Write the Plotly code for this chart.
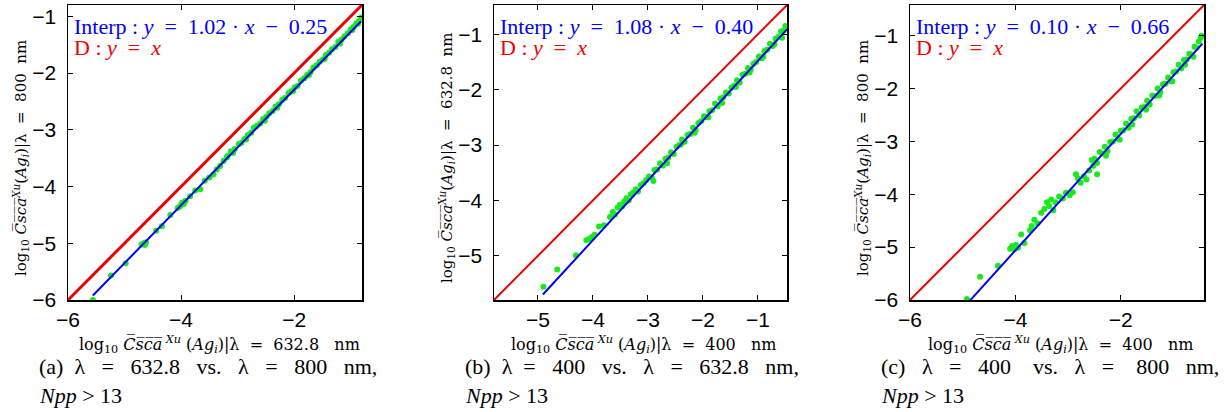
import plotly.graph_objects as go

W, H = 1230, 412

# ---------------- data (log10 values) ----------------
# Panel (a): lambda = 632.8 (x) vs lambda = 800 nm (y)
a_x = [-5.56, -5.24, -4.98, -4.70, -4.66, -4.62, -4.64, -4.44, -4.34, -4.19, -4.06, -4.02, -3.98,
       -3.95, -4.00, -3.92, -3.84, -3.75, -3.66, -3.58, -3.50, -3.43, -3.37, -3.31, -3.25, -3.19,
       -3.18, -3.12, -3.05, -2.98, -2.93, -2.88, -2.82, -2.76, -2.71, -2.66, -2.60, -2.55, -2.49,
       -2.44, -2.38, -2.33, -2.27, -2.21, -2.16, -2.10, -2.05, -1.99, -1.94, -1.88, -1.82, -1.77,
       -1.71, -1.66, -1.60, -1.55, -1.49, -1.44, -1.38, -1.33, -1.27, -1.22, -1.16, -1.11, -1.05,
       -1.00, -0.95, -0.90, -0.85, -0.81,
       -3.08, -2.85, -2.52, -2.30, -2.02, -1.74, -1.46, -1.19, -0.97, -0.87]
a_y = [-6.00, -5.57, -5.35, -5.02, -5.00, -4.98, -5.03, -4.78, -4.70, -4.50, -4.38, -4.35, -4.28,
       -4.31, -4.32, -4.25, -4.17, -4.07, -4.05, -3.90, -3.84, -3.79, -3.70, -3.64, -3.55, -3.49,
       -3.46, -3.38, -3.34, -3.25, -3.23, -3.16, -3.09, -3.05, -2.96, -2.93, -2.89, -2.81, -2.77,
       -2.71, -2.67, -2.59, -2.55, -2.47, -2.44, -2.35, -2.32, -2.25, -2.23, -2.13, -2.09, -2.03,
       -1.98, -1.90, -1.86, -1.80, -1.76, -1.68, -1.64, -1.58, -1.54, -1.45, -1.41, -1.35, -1.30,
       -1.23, -1.19, -1.12, -1.08, -1.02,
       -3.41, -3.17, -2.84, -2.61, -2.32, -2.04, -1.75, -1.48, -1.24, -1.13]
a_fit_x = [-5.56, -0.82]
a_fit_y = [-5.92, -1.09]
a_diag = [-6.0, -0.8]
a_range = [-6.0, -0.8]
a_xticks = [-6, -4, -2]
a_yticks = [-6, -5, -4, -3, -2, -1]

# Panel (b): lambda = 400 (x) vs lambda = 632.8 nm (y)
b_x = [-4.90, -4.65, -4.31, -4.12, -4.07, -4.02, -3.97, -3.89, -3.80, -3.69, -3.64, -3.60, -3.55,
       -3.51, -3.47, -3.43, -3.39, -3.35, -3.31, -3.27, -3.22, -3.18, -3.13, -3.08, -3.03,
       -2.98, -2.93, -2.88, -2.83, -2.78, -2.73, -2.68, -2.63, -2.58, -2.53, -2.48, -2.43, -2.38,
       -2.33, -2.28, -2.23, -2.18, -2.13, -2.08, -2.03, -1.98, -1.93, -1.88, -1.83, -1.78, -1.73,
       -1.68, -1.63, -1.58, -1.53, -1.48, -1.43, -1.38, -1.33, -1.28, -1.23, -1.18, -1.13, -1.08,
       -1.03, -0.98, -0.93, -0.88, -0.83, -0.78, -0.73, -0.68, -0.63, -0.58, -0.54, -0.50,
       -2.90, -2.65, -2.40, -2.15, -1.90, -1.65, -1.40, -1.15, -0.90, -0.70, -0.56]
b_y = [-5.56, -5.25, -4.99, -4.72, -4.70, -4.66, -4.62, -4.47, -4.45, -4.30, -4.21, -4.26, -4.13,
       -4.08, -4.11, -4.02, -3.96, -4.00, -3.89, -3.86, -3.80, -3.84, -3.72, -3.69, -3.63,
       -3.57, -3.59, -3.45, -3.44, -3.33, -3.37, -3.25, -3.23, -3.13, -3.16, -3.03, -3.00, -2.90,
       -2.94, -2.82, -2.80, -2.69, -2.73, -2.60, -2.57, -2.48, -2.50, -2.39, -2.37, -2.25, -2.30,
       -2.16, -2.14, -2.05, -2.07, -1.96, -1.93, -1.83, -1.87, -1.73, -1.71, -1.61, -1.64, -1.53,
       -1.50, -1.40, -1.43, -1.30, -1.28, -1.17, -1.21, -1.08, -1.05, -0.95, -0.94, -0.85,
       -3.65, -3.33, -2.99, -2.78, -2.50, -2.24, -1.95, -1.69, -1.40, -1.18, -1.06]
b_fit_x = [-4.91, -0.47]
b_fit_y = [-5.70, -0.91]
b_diag = [-5.8, -0.47]
b_range = [-5.8, -0.47]
b_xticks = [-5, -4, -3, -2, -1]
b_yticks = [-5, -4, -3, -2, -1]

# Panel (c): lambda = 400 (x) vs lambda = 800 nm (y)
c_x = [-4.92, -4.67, -4.33, -4.10, -4.06, -4.02, -3.99, -3.95, -3.89, -3.83, -3.72, -3.69, -3.64,
       -3.58, -3.51, -3.45, -3.40, -3.36, -3.32, -3.28, -3.24, -3.17, -3.10, -3.04, -2.97, -2.91,
       -2.85, -2.81, -2.76, -2.70, -2.65, -2.60, -2.55, -2.52, -2.45,
       -2.50, -2.45, -2.40, -2.35, -2.30, -2.25, -2.20, -2.15, -2.10, -2.05, -2.00, -1.95, -1.90,
       -1.85, -1.80, -1.75, -1.70, -1.65, -1.60, -1.55, -1.50, -1.45, -1.40, -1.35, -1.30, -1.25,
       -1.20, -1.15, -1.10, -1.05, -1.00, -0.95, -0.90, -0.85, -0.80, -0.75, -0.70, -0.65, -0.60,
       -0.56, -0.52, -0.48, -0.47,
       -2.28, -2.02, -1.78, -1.52, -1.27, -1.02, -0.78, -0.62]
c_y = [-5.98, -5.56, -5.35, -5.03, -4.98, -5.04, -4.96, -5.01, -4.76, -4.92, -4.68, -4.60, -4.48,
       -4.55, -4.35, -4.28, -4.15, -4.22, -4.10, -4.30, -4.15, -4.04, -4.08, -3.97, -4.02, -3.96,
       -3.62, -3.70, -3.78, -3.66, -3.72, -3.55, -3.35, -3.46, -3.62,
       -3.33, -3.41, -3.20, -3.23, -3.10, -3.18, -3.01, -3.00, -2.87, -2.95, -2.80, -2.79, -2.66,
       -2.74, -2.57, -2.56, -2.43, -2.51, -2.36, -2.35, -2.23, -2.30, -2.13, -2.14, -2.00, -2.07,
       -1.92, -1.91, -1.79, -1.86, -1.69, -1.68, -1.55, -1.62, -1.46, -1.45, -1.34, -1.36, -1.21,
       -1.23, -1.11, -1.04, -1.00,
       -3.27, -2.97, -2.68, -2.40, -2.13, -1.86, -1.55, -1.40]
c_fit_x = [-4.87, -0.45]
c_fit_y = [-6.02, -1.15]
c_diag = [-6.0, -0.42]
c_range = [-6.0, -0.42]
c_xticks = [-6, -4, -2]
c_yticks = [-6, -5, -4, -3, -2, -1]

fit_labels = ["1.02", "1.08", "0.10"]
fit_offsets = ["0.25", "0.40", "0.66"]
x_lambdas = ["632.8", "400", "400"]
y_lambdas = ["800", "632.8", "800"]
NB = "\u00a0"
S2, S3, S4 = NB * 2, NB * 3, NB * 4
captions = [f"(a){S2}λ{S3}={S3}632.8{S3}vs.{S3}λ{S3}={S3}800{S3}nm,",
            f"(b){S2}λ{S2}={S3}400{S3}vs.{S3}λ{S3}={S3}632.8{S3}nm,",
            f"(c){S3}λ{S3}={S3}400{S4}vs.{S3}λ{S3}={S4}800{S3}nm,"]

# ---------------- layout geometry (screen pixels) ----------------
panel_px = [(68, 362), (494, 787), (910, 1204)]
top_px, bot_px = 5, 300


def px(sx):
    return sx / W


def py(sy):
    return 1 - sy / H


SERIF = "Liberation Serif"
LABEL_SERIF = "DejaVu Serif"
SANS = "Liberation Sans"
GREEN = "rgb(25,235,25)"

panels = [
    (a_x, a_y, a_fit_x, a_fit_y, a_diag, a_range, a_xticks, a_yticks, 3),
    (b_x, b_y, b_fit_x, b_fit_y, b_diag, b_range, b_xticks, b_yticks, 2),
    (c_x, c_y, c_fit_x, c_fit_y, c_diag, c_range, c_xticks, c_yticks, 2),
]

fig = go.Figure()
csca = "C\u0305s\u0305c\u0305a\u0305"

for i, (dx, dy, fx, fy, dg, rng, xt, yt, dw) in enumerate(panels):
    sfx = "" if i == 0 else str(i + 1)
    xref, yref = "x" + sfx, "y" + sfx
    fig.add_trace(go.Scatter(x=dg, y=dg, mode="lines", line=dict(color="rgb(235,0,0)", width=dw),
                             xaxis=xref, yaxis=yref, showlegend=False, hoverinfo="skip"))
    fig.add_trace(go.Scatter(x=dx, y=dy, mode="markers",
                             marker=dict(color=GREEN, size=6, line=dict(width=0)),
                             xaxis=xref, yaxis=yref, showlegend=False, hoverinfo="skip"))
    fig.add_trace(go.Scatter(x=fx, y=fy, mode="lines", line=dict(color="rgb(0,0,255)", width=2),
                             xaxis=xref, yaxis=yref, showlegend=False, hoverinfo="skip"))

    l, r = panel_px[i]
    common = dict(range=rng, showline=True, linecolor="black", linewidth=1.5, mirror="ticks",
                  ticks="inside", ticklen=5, tickcolor="black", tickwidth=1, showgrid=False,
                  zeroline=False, automargin=False,
                  tickfont=dict(family=SANS, size=21, color="black"))
    fig.update_layout(**{
        "xaxis" + sfx: dict(domain=[px(l), px(r)], anchor=yref, tickvals=xt,
                            ticktext=["\u2212" + str(abs(t)) for t in xt],
                            ticklabelstandoff=0, **common),
        "yaxis" + sfx: dict(domain=[py(bot_px), py(top_px)], anchor=xref, tickvals=yt,
                            ticktext=["\u2212" + str(abs(t)) for t in yt],
                            ticklabelstandoff=6, **common),
    })

    # in-plot equations
    fig.add_annotation(x=px(l + 4), y=py(27), xref="paper", yref="paper",
                       xanchor="left", yanchor="middle", showarrow=False,
                       text=(f"Interp{NB}:{NB}<i>y</i>{NB}{NB}={NB}{NB}{fit_labels[i]}{NB}·{NB}"
                             f"<i>x</i>{NB}{NB}−{NB}{NB}{fit_offsets[i]}"),
                       font=dict(family=SERIF, size=22, color="rgb(0,0,255)"))
    fig.add_annotation(x=px(l + 4), y=py(47), xref="paper", yref="paper",
                       xanchor="left", yanchor="middle", showarrow=False,
                       text=f"D{NB}:{NB}<i>y</i>{NB}{NB}={NB}{NB}<i>x</i>",
                       font=dict(family=SERIF, size=22, color="rgb(240,0,0)"))
    lab_x = (f"log<sub>10</sub>{NB}<i>{csca}</i><sup><i>{NB}Xu</i></sup>{NB}(<i>Ag<sub>i</sub></i>)|λ"
             f"{NB}{NB}={NB}{NB}{x_lambdas[i]}{NB}{NB}{NB}nm")
    lab_y = (f"log<sub>10</sub>{NB}<i>{csca}</i><sup><i>Xu</i></sup>(<i>Ag<sub>i</sub></i>)|λ"
             f"{NB}{NB}={NB}{NB}{y_lambdas[i]}{NB}{NB}nm")
    # x axis label
    fig.add_annotation(x=px((l + r) / 2 + 4), y=py(344), xref="paper", yref="paper",
                       xanchor="center", yanchor="middle", showarrow=False, text=lab_x,
                       font=dict(family=LABEL_SERIF, size=16, color="black"))
    # y axis label
    fig.add_annotation(x=px(l - 48), y=py(158), xref="paper", yref="paper",
                       xanchor="center", yanchor="middle", showarrow=False, textangle=-90,
                       text=lab_y, font=dict(family=LABEL_SERIF, size=15, color="black"))
    # caption
    fig.add_annotation(x=px(l - 31), y=py(366), xref="paper", yref="paper",
                       xanchor="left", yanchor="middle", showarrow=False,
                       text=captions[i], font=dict(family=SERIF, size=22, color="black"))
    fig.add_annotation(x=px(l - 31), y=py(395), xref="paper", yref="paper",
                       xanchor="left", yanchor="middle", showarrow=False,
                       text="<i>Npp</i>" + NB + ">" + NB + "13",
                       font=dict(family=SERIF, size=22, color="black"))

fig.update_layout(width=W, height=H, margin=dict(l=0, r=0, t=0, b=0, autoexpand=False),
                  paper_bgcolor="white", plot_bgcolor="white", hovermode=False)
fig.write_html("out.html", config={"displayModeBar": False, "staticPlot": True},
               post_script="document.body.style.margin='0';document.body.style.overflow='hidden';")
